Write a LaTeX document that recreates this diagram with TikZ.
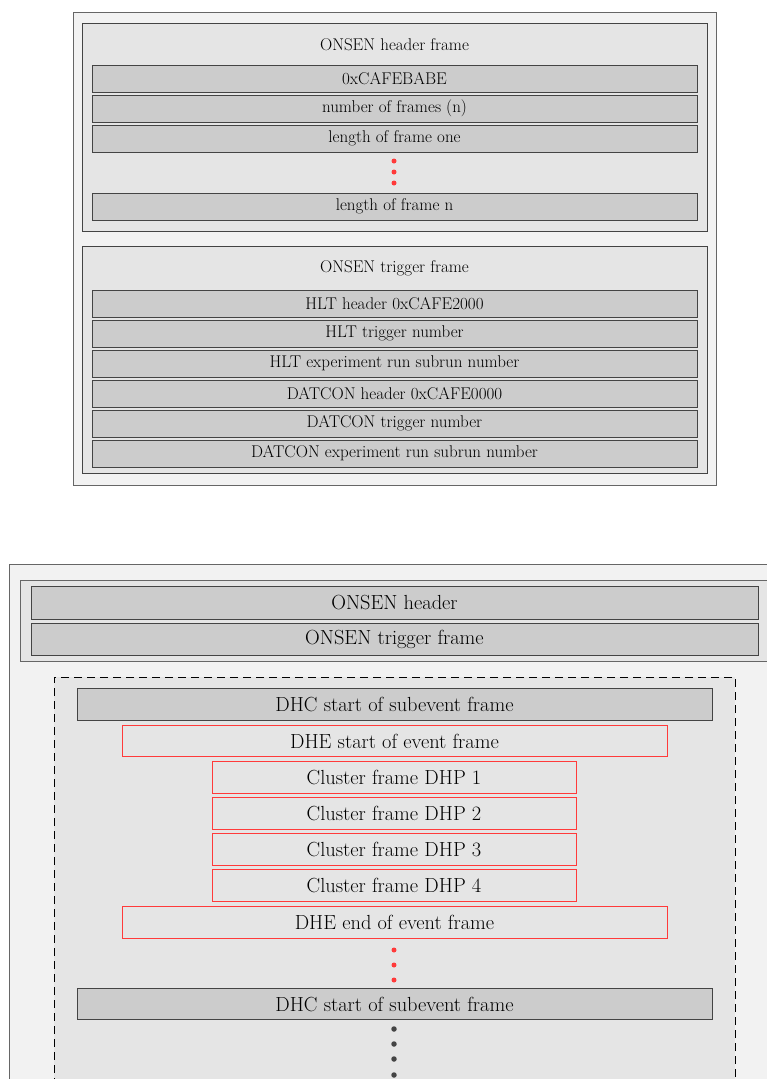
\documentclass[tikz,border=0pt]{standalone}
\usetikzlibrary{positioning}
\definecolor{outerfill}{HTML}{F2F2F2}
\definecolor{innerfill}{HTML}{E5E5E5}
\definecolor{rowfill}{HTML}{CCCCCC}
\definecolor{edgedark}{HTML}{444444}
\definecolor{edgegray}{HTML}{666666}
\definecolor{txt}{HTML}{000000}
\definecolor{redline}{HTML}{FF3A3A}
\tikzset{
  box/.style={rectangle, inner sep=0pt, anchor=center, text=txt},
  outerbox/.style={box, fill=outerfill, draw=edgegray, line width=0.9pt},
  framebox/.style={box, fill=innerfill, draw=edgedark, line width=0.8pt},
  rowsmall/.style={box, fill=rowfill, draw=edgedark, line width=0.8pt, minimum width=605pt, minimum height=27pt, font=\fontsize{17}{20}\selectfont},
  rowbig/.style={box, fill=rowfill, draw=edgedark, line width=0.8pt, minimum height=31.5pt, font=\fontsize{20.4}{24}\selectfont},
  redbox/.style={box, draw=redline, line width=0.8pt, minimum height=31.5pt, font=\fontsize{20.4}{24}\selectfont},
  titlesmall/.style={box, font=\fontsize{17}{20}\selectfont},
  reddot/.style={circle, fill=redline, inner sep=0pt, minimum size=5pt},
  darkdot/.style={circle, fill=edgedark, inner sep=0pt, minimum size=5.5pt},
}
\begin{document}
\begin{tikzpicture}[x=1pt, y=-1pt]
\useasboundingbox (0,0) rectangle (767,1079);
\clip (0,0) rectangle (767,1079);
% ---------- top diagram ----------
\node[outerbox, minimum width=643pt, minimum height=473pt] (topouter) at (394.5,248.5) {};
\node[framebox, minimum width=625pt, minimum height=208pt] (hdrframe) at (394.5,127) {};
\node[titlesmall] (hdrtitle) at (394.5,45) {ONSEN header frame};
\node[rowsmall] (cafe) at (394.5,78.5) {0xCAFEBABE};
\node[rowsmall] (nframes) at (394.5,108.5) {number of frames (n)};
\node[rowsmall] (lenone) at (394.5,138.5) {length of frame one};
\node[reddot] (rd1) at (394,161) {};
\node[reddot] (rd2) at (394,172) {};
\node[reddot] (rd3) at (394,183) {};
\node[rowsmall] (lenn) at (394.5,206.5) {length of frame n};
\node[framebox, minimum width=625pt, minimum height=227pt] (trigframe) at (394.5,359.5) {};
\node[titlesmall] (trigtitle) at (394.5,268) {ONSEN trigger frame};
\node[rowsmall] (hlthdr) at (394.5,303.5) {HLT header 0xCAFE2000};
\node[rowsmall] (hlttrig) at (394.5,333.5) {HLT trigger number};
\node[rowsmall] (hltrun) at (394.5,363.5) {HLT experiment run subrun number};
\node[rowsmall] (dathdr) at (394.5,393.5) {DATCON header 0xCAFE0000};
\node[rowsmall] (dattrig) at (394.5,423.5) {DATCON trigger number};
\node[rowsmall] (datrun) at (394.5,453.5) {DATCON experiment run subrun number};
% ---------- bottom diagram ----------
\node[outerbox, minimum width=771pt, minimum height=560pt] (botouter) at (394.5,844) {};
\node[framebox, draw=edgegray, minimum width=749pt, minimum height=81pt] (onsenbox) at (394.5,620.5) {};
\node[rowbig, minimum width=727pt, minimum height=33pt] (onsenhdr) at (394.5,602.5) {ONSEN header};
\node[rowbig, minimum width=727pt, minimum height=32pt] (onsentrig) at (394.5,639) {ONSEN trigger frame};
\node[box, fill=innerfill, draw=black, line width=0.8pt, dash pattern=on 8pt off 5pt, minimum width=681pt, minimum height=460pt] (subevent) at (394.5,907) {};
\node[rowbig, minimum width=635pt] (dhc1) at (394.5,704.5) {DHC start of subevent frame};
\node[redbox, minimum width=545pt] (dhestart) at (394.5,741) {DHE start of event frame};
\node[redbox, minimum width=364pt] (dhp1) at (394,777.5) {Cluster frame DHP 1};
\node[redbox, minimum width=364pt] (dhp2) at (394,813.5) {Cluster frame DHP 2};
\node[redbox, minimum width=364pt] (dhp3) at (394,849.5) {Cluster frame DHP 3};
\node[redbox, minimum width=364pt] (dhp4) at (394,885.5) {Cluster frame DHP 4};
\node[redbox, minimum width=545pt] (dheend) at (394.5,922.5) {DHE end of event frame};
\node[reddot] (rd4) at (394,950) {};
\node[reddot] (rd5) at (394,965) {};
\node[reddot] (rd6) at (394,980) {};
\node[rowbig, minimum width=635pt] (dhc2) at (394.5,1004) {DHC start of subevent frame};
\node[darkdot] (dd1) at (394,1029) {};
\node[darkdot] (dd2) at (394,1044) {};
\node[darkdot] (dd3) at (394,1059) {};
\node[darkdot] (dd4) at (394,1075) {};
\end{tikzpicture}
\end{document}
